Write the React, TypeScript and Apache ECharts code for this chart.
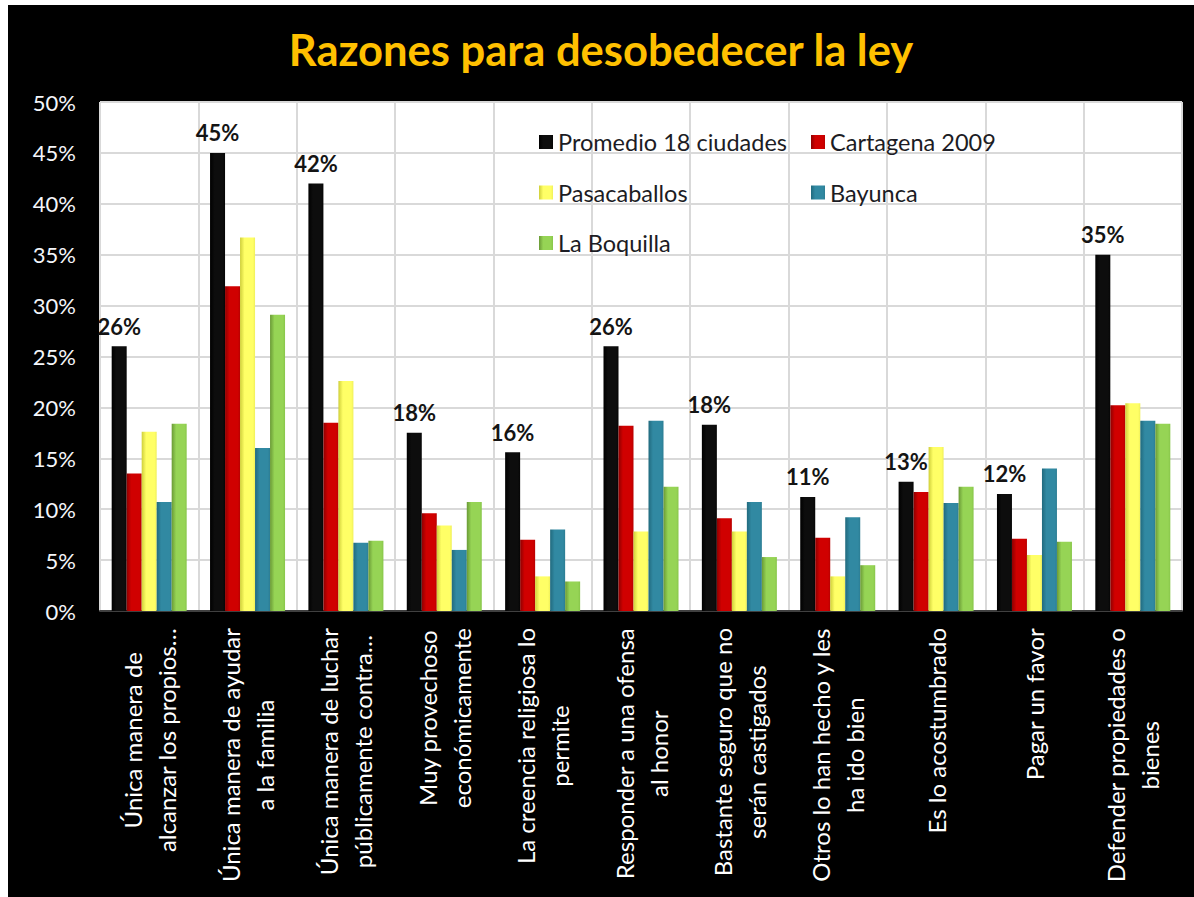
import React, { useEffect, useRef } from "react";
import * as echarts from "echarts";

const categories = [
  "Única manera de\nalcanzar los propios…",
  "Única manera de ayudar\na la familia",
  "Única manera de luchar\npúblicamente contra…",
  "Muy provechoso\neconómicamente",
  "La creencia religiosa lo\npermite",
  "Responder a una ofensa\nal honor",
  "Bastante seguro que no\nserán castigados",
  "Otros lo han hecho y les\nha ido bien",
  "Es lo acostumbrado",
  "Pagar un favor",
  "Defender propiedades o\nbienes",
];

const promedio = [26.0, 45.0, 42.0, 17.5, 15.6, 26.0, 18.3, 11.2, 12.7, 11.5, 35.0];
const cartagena = [13.5, 31.9, 18.5, 9.6, 7.0, 18.2, 9.1, 7.2, 11.7, 7.1, 20.2];
const pasacaballos = [17.6, 36.7, 22.6, 8.4, 3.4, 7.8, 7.8, 3.4, 16.1, 5.5, 20.4];
const bayunca = [10.7, 16.0, 6.7, 6.0, 8.0, 18.7, 10.7, 9.2, 10.6, 14.0, 18.7];
const laBoquilla = [18.4, 29.1, 6.9, 10.7, 2.9, 12.2, 5.3, 4.5, 12.2, 6.8, 18.4];

const seriesNames = ["Promedio 18 ciudades", "Cartagena 2009", "Pasacaballos", "Bayunca", "La Boquilla"];

const FONT = "Lato, 'Open Sans', sans-serif";

function grad(edge: string, base: string, right: string) {
  return new echarts.graphic.LinearGradient(0, 0, 1, 0, [
    { offset: 0, color: edge },
    { offset: 0.3, color: base },
    { offset: 0.85, color: base },
    { offset: 1, color: right },
  ]);
}

export default function App() {
  const ref = useRef<HTMLDivElement>(null);
  useEffect(() => {
    if (!ref.current) return;
    const chart = echarts.init(ref.current, undefined, { renderer: "svg" });
    const colors = [
      grad("#000000", "#0d0d0d", "#050505"),
      grad("#8e0000", "#d00000", "#b80000"),
      grad("#cfcf3a", "#ffff66", "#f0f05a"),
      grad("#216a7e", "#3189a2", "#2c7d93"),
      grad("#6a9a36", "#96d455", "#88c64a"),
    ];
    const legendColors = ["#000000", "#c00000", "#ffff66", "#31859c", "#92d050"];
    const data = [promedio, cartagena, pasacaballos, bayunca, laBoquilla];
    const legendText = { fontFamily: FONT, fontSize: 23.5, color: "#1c1c24", lineHeight: 22 };
    chart.setOption({
      animation: false,
      backgroundColor: "#000000",
      title: {
        text: "Razones para desobedecer la ley",
        left: "center",
        top: 17,
        textStyle: { fontFamily: FONT, fontSize: 43.5, fontWeight: "bold", color: "#ffc000" },
      },
      legend: [
        {
          data: [seriesNames[0], seriesNames[2], seriesNames[4]],
          orient: "vertical",
          left: 526,
          top: 120,
          itemWidth: 14,
          itemHeight: 14,
          itemGap: 26.5,
          textStyle: legendText,
          icon: "rect",
        },
        {
          data: [seriesNames[1], seriesNames[3]],
          orient: "vertical",
          left: 798,
          top: 120,
          itemWidth: 14,
          itemHeight: 14,
          itemGap: 26.5,
          textStyle: legendText,
          icon: "rect",
        },
      ],
      grid: {
        left: 92,
        right: 12,
        top: 97,
        bottom: 286,
        show: true,
        backgroundColor: "#ffffff",
        borderColor: "#3a3a3a",
        borderWidth: 1,
      },
      xAxis: {
        type: "category",
        data: categories,
        axisLine: { show: true, lineStyle: { color: "#404040", width: 2 } },
        axisTick: { show: false },
        splitLine: { show: true, lineStyle: { color: "#d9d9d9", width: 2 } },
        axisLabel: {
          interval: 0,
          rotate: 90,
          margin: 17,
          color: "#ffffff",
          fontFamily: FONT,
          fontSize: 24,
          lineHeight: 34,
          formatter: (v: string) => v.split("\n").map((l) => `{c|${l}}`).join("\n"),
          rich: {
            c: { align: "center", color: "#ffffff", fontFamily: FONT, fontSize: 24, lineHeight: 34 },
          },
        },
      },
      yAxis: {
        type: "value",
        min: 0,
        max: 50,
        interval: 5,
        axisLine: { show: false },
        axisTick: { show: false },
        splitLine: { show: true, lineStyle: { color: "#d9d9d9", width: 2 } },
        axisLabel: {
          margin: 24,
          color: "#f4f6fa",
          fontFamily: FONT,
          fontSize: 22,
          formatter: (v: number) => `${v}%`,
        },
      },
      series: data.map((d, i) => ({
        name: seriesNames[i],
        type: "bar",
        data: d,
        barWidth: 15,
        barGap: "0%",
        barCategoryGap: "24%",
        color: legendColors[i],
        itemStyle: { color: colors[i] },
        label:
          i === 0
            ? {
                show: true,
                position: "top",
                distance: 9,
                formatter: (p: any) => `${Math.round(p.value)}%`,
                fontFamily: FONT,
                fontSize: 22,
                fontWeight: "bold",
                color: "#141414",
              }
            : { show: false },
      })),
    });
    return () => chart.dispose();
  }, []);
  return (
    <div
      ref={ref}
      style={{ position: "absolute", left: 8, top: 5, width: 1186, height: 892 }}
    />
  );
}
